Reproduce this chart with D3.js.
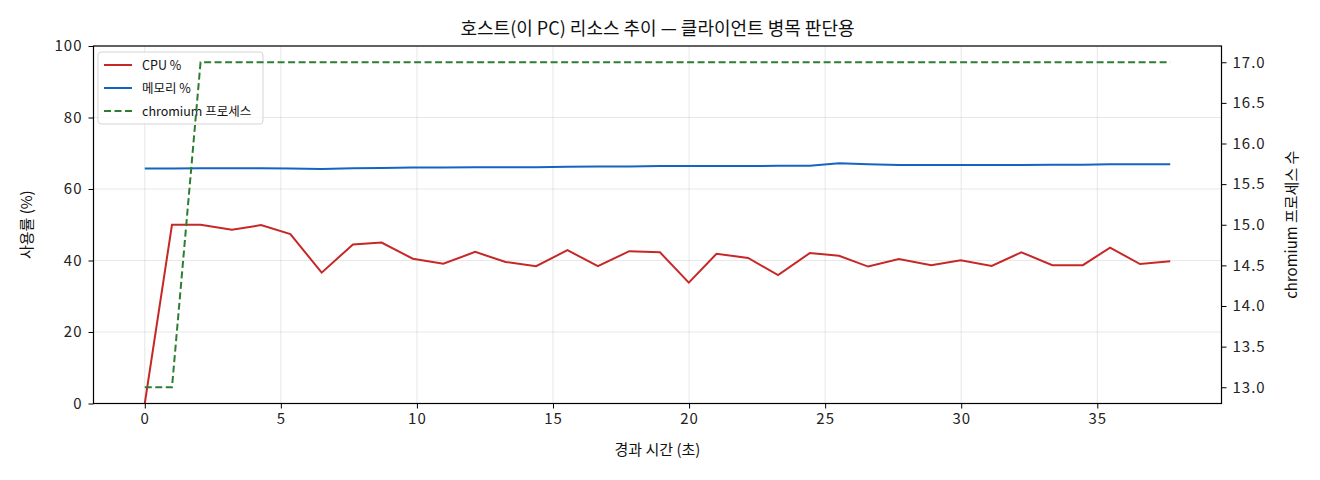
<!DOCTYPE html>
<html>
<head>
<meta charset="utf-8">
<script src="https://cdn.jsdelivr.net/npm/d3@7"></script>
<style>
  body { margin: 0; background: #fff; }
  text { font-family: "Noto Sans CJK KR", "Noto Sans", sans-serif; }
</style>
</head>
<body>
<div id="chart"></div>
<script>
// 경과 시간 (초)
var times = [0, 1.0, 2.05, 3.2, 4.27, 5.35, 6.5, 7.65, 8.7, 9.85, 10.97, 12.14, 13.26, 14.38,
  15.53, 16.65, 17.8, 18.93, 19.99, 21.01, 22.17, 23.27, 24.44, 25.51, 26.58, 27.71,
  28.9, 29.98, 31.12, 32.21, 33.35, 34.47, 35.47, 36.57, 37.68];
var cpu = [0, 50.0, 50.0, 48.6, 49.9, 47.4, 36.6, 44.5, 45.0, 40.5, 39.1, 42.4, 39.6, 38.4,
  42.9, 38.4, 42.6, 42.3, 33.8, 41.9, 40.7, 35.9, 42.1, 41.3, 38.3, 40.4,
  38.7, 40.1, 38.5, 42.3, 38.7, 38.7, 43.6, 39.0, 39.8];
var mem = [65.7, 65.7, 65.8, 65.8, 65.8, 65.7, 65.6, 65.8, 65.9, 66.0, 66.0, 66.1, 66.1, 66.1,
  66.2, 66.3, 66.3, 66.4, 66.4, 66.4, 66.4, 66.5, 66.5, 67.2, 66.9, 66.7,
  66.7, 66.7, 66.7, 66.7, 66.8, 66.8, 66.9, 66.9, 66.9];
var procs = [13, 13, 17, 17, 17, 17, 17, 17, 17, 17, 17, 17, 17, 17,
  17, 17, 17, 17, 17, 17, 17, 17, 17, 17, 17, 17,
  17, 17, 17, 17, 17, 17, 17, 17, 17];
var xTicks = [0, 5, 10, 15, 20, 25, 30, 35];
var yTicks = [0, 20, 40, 60, 80, 100];
var y2Ticks = [13.0, 13.5, 14.0, 14.5, 15.0, 15.5, 16.0, 16.5, 17.0];
var seriesNames = ["CPU %", "메모리 %", "chromium 프로세스"];
var seriesColors = ["#c62828", "#1565c0", "#2e7d32"];

var W = 1320, H = 480;
var L = 93.5, R = 1221.5, T = 46, B = 403.5;

var svg = d3.select("#chart").append("svg")
    .attr("width", W)
    .attr("height", H);

// matplotlib 식 5% 여백
var tMax = d3.max(times), tMin = d3.min(times);
var padX = (tMax - tMin) * 0.05;
var x = d3.scaleLinear().domain([tMin - padX, tMax + padX]).range([L, R]);
var y = d3.scaleLinear().domain([0, 100]).range([B, T]);
var pMin = d3.min(procs), pMax = d3.max(procs);
var padP = (pMax - pMin) * 0.05;
var y2 = d3.scaleLinear().domain([pMin - padP, pMax + padP]).range([B, T]);

// 그리드
svg.append("g").selectAll("line").data(xTicks).enter().append("line")
    .attr("x1", d => x(d)).attr("x2", d => x(d))
    .attr("y1", T).attr("y2", B)
    .attr("stroke", "#b0b0b0").attr("stroke-opacity", 0.3).attr("stroke-width", 1);
svg.append("g").selectAll("line").data(yTicks).enter().append("line")
    .attr("x1", L).attr("x2", R)
    .attr("y1", d => y(d)).attr("y2", d => y(d))
    .attr("stroke", "#b0b0b0").attr("stroke-opacity", 0.3).attr("stroke-width", 1);

var lineCpu = d3.line().x((d, i) => x(times[i])).y(d => y(d));
var lineP = d3.line().x((d, i) => x(times[i])).y(d => y2(d));

svg.append("path").datum(cpu)
    .attr("d", lineCpu)
    .attr("fill", "none").attr("stroke", seriesColors[0]).attr("stroke-width", 2);
svg.append("path").datum(mem)
    .attr("d", lineCpu)
    .attr("fill", "none").attr("stroke", seriesColors[1]).attr("stroke-width", 2);

// 범례 (오른쪽 축 선이 그 위에 그려짐)
var leg = svg.append("g").attr("transform", "translate(98,52)");
leg.append("rect")
    .attr("width", 165).attr("height", 72)
    .attr("rx", 3).attr("ry", 3)
    .attr("fill", "#fff").attr("fill-opacity", 0.8)
    .attr("stroke", "#d5d5d5").attr("stroke-width", 1);
seriesNames.forEach(function (name, i) {
    var yy = 13 + i * 23;
    leg.append("line")
        .attr("x1", 6).attr("x2", 34)
        .attr("y1", yy).attr("y2", yy)
        .attr("stroke", seriesColors[i]).attr("stroke-width", 2)
        .attr("stroke-dasharray", i == 2 ? "7,3.5" : null);
    leg.append("text")
        .attr("x", 44).attr("y", yy + 4.5)
        .attr("font-size", "12.5px").attr("fill", "#111")
        .text(name);
});

svg.append("path").datum(procs)
    .attr("d", lineP)
    .attr("fill", "none").attr("stroke", seriesColors[2]).attr("stroke-width", 2)
    .attr("stroke-dasharray", "7,3.5");

// 축
function styleAxis(g) {
    g.select(".domain").remove();
    g.selectAll(".tick line").attr("stroke", "#000").attr("stroke-width", 1);
    g.selectAll(".tick text").attr("fill", "#222").attr("font-size", "15px")
        .attr("font-family", "\"Noto Sans CJK KR\", sans-serif")
        .attr("letter-spacing", "1px");
}
svg.append("g").attr("transform", "translate(0," + B + ")")
    .call(d3.axisBottom(x).tickValues(xTicks).tickSize(5).tickPadding(5).tickFormat(d3.format("d")))
    .call(styleAxis);
svg.append("g").attr("transform", "translate(" + L + ",0)")
    .call(d3.axisLeft(y).tickValues(yTicks).tickSize(5).tickPadding(6).tickFormat(d3.format("d")))
    .call(styleAxis);
svg.append("g").attr("transform", "translate(" + R + ",0)")
    .call(d3.axisRight(y2).tickValues(y2Ticks).tickSize(5).tickPadding(6).tickFormat(d3.format(".1f")))
    .call(styleAxis);

svg.append("rect")
    .attr("x", L).attr("y", T)
    .attr("width", R - L).attr("height", B - T)
    .attr("fill", "none").attr("stroke", "#000").attr("stroke-width", 1.2);

// 제목, 축 라벨
svg.append("text")
    .attr("x", (L + R) / 2).attr("y", 35)
    .attr("text-anchor", "middle")
    .attr("font-size", "18px").attr("fill", "#111")
    .text("호스트(이 PC) 리소스 추이 — 클라이언트 병목 판단용");
svg.append("text")
    .attr("x", (L + R) / 2).attr("y", 455)
    .attr("text-anchor", "middle")
    .attr("font-size", "15px").attr("fill", "#111")
    .text("경과 시간 (초)");
svg.append("text")
    .attr("transform", "translate(32," + ((T + B) / 2) + ") rotate(-90)")
    .attr("text-anchor", "middle")
    .attr("font-size", "15px").attr("fill", "#111")
    .text("사용률 (%)");
svg.append("text")
    .attr("transform", "translate(1297," + ((T + B) / 2) + ") rotate(-90)")
    .attr("text-anchor", "middle")
    .attr("font-size", "15px").attr("fill", "#111")
    .text("chromium 프로세스 수");
</script>
</body>
</html>
